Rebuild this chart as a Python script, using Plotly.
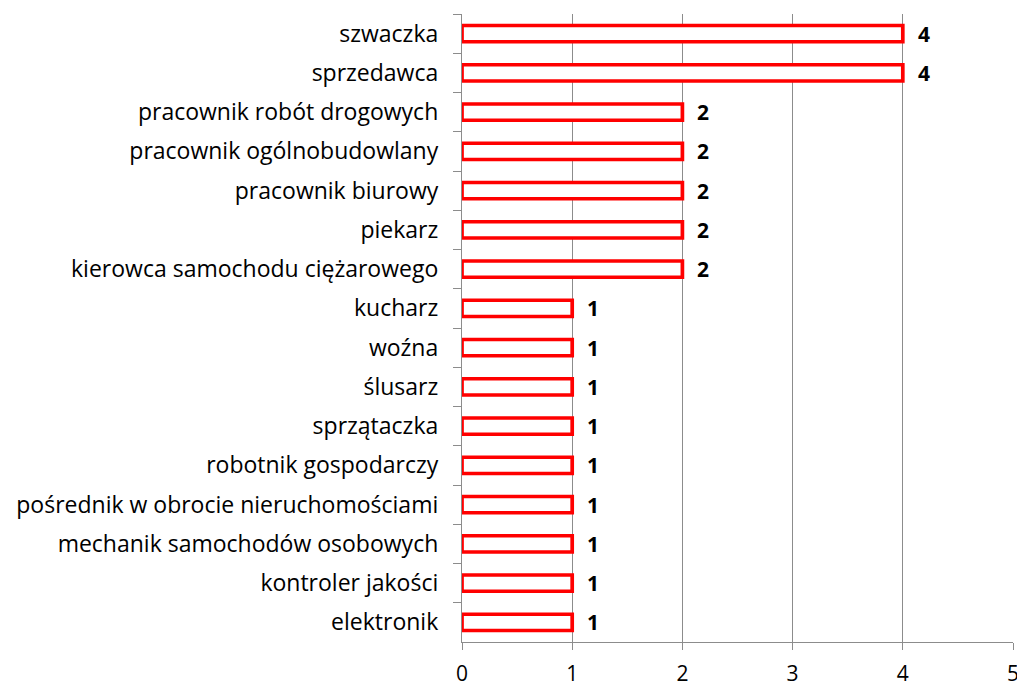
import plotly.graph_objects as go

categories = [
    "szwaczka",
    "sprzedawca",
    "pracownik robót drogowych",
    "pracownik ogólnobudowlany",
    "pracownik biurowy",
    "piekarz",
    "kierowca samochodu ciężarowego",
    "kucharz",
    "woźna",
    "ślusarz",
    "sprzątaczka",
    "robotnik gospodarczy",
    "pośrednik w obrocie nieruchomościami",
    "mechanik samochodów osobowych",
    "kontroler jakości",
    "elektronik",
]
values = [4, 4, 2, 2, 2, 2, 2, 1, 1, 1, 1, 1, 1, 1, 1, 1]
x_ticks = [0, 1, 2, 3, 4, 5]

FONT = "'Open Sans', Lato, sans-serif"
GRID = "#8c8c8c"

fig = go.Figure()
fig.add_trace(go.Bar(
    x=values,
    y=categories,
    orientation="h",
    marker=dict(color="white", line=dict(color="#ff0000", width=3.7)),
    showlegend=False,
    hoverinfo="skip",
))

for c, v in zip(categories, values):
    fig.add_annotation(
        x=v, y=c, text=f"<b>{v}</b>", showarrow=False,
        xanchor="left", yanchor="middle", xshift=13,
        font=dict(family=FONT, size=21, color="black"),
    )

fig.update_layout(
    width=1017, height=687,
    margin=dict(l=462, r=4, t=14, b=45),
    paper_bgcolor="white", plot_bgcolor="white",
    bargap=0.585,
    font=dict(family=FONT, size=20, color="black"),
)
fig.update_xaxes(
    range=[0, 5],
    tickvals=x_ticks,
    ticktext=[str(t) for t in x_ticks],
    showgrid=True, gridcolor=GRID, gridwidth=1.3,
    zeroline=False,
    showline=True, linecolor=GRID, linewidth=1.3,
    ticks="outside", ticklen=7, tickcolor=GRID, tickwidth=1.3,
    ticklabelstandoff=6,
    ticklabeloverflow="allow",
    automargin=False,
    tickfont=dict(family=FONT, size=21, color="black"),
    fixedrange=True,
)
fig.update_yaxes(
    categoryorder="array", categoryarray=categories,
    autorange="reversed",
    showgrid=False, zeroline=False,
    showline=True, linecolor=GRID, linewidth=1.3,
    ticks="outside", ticklen=8, tickcolor=GRID, tickwidth=1.3,
    tickson="boundaries",
    ticklabelstandoff=18,
    automargin=False,
    tickfont=dict(family=FONT, size=23, color="black"),
    fixedrange=True,
)

fig.write_html(
    "out.html",
    config={"displayModeBar": False},
    post_script="document.body.style.margin='0';document.body.style.overflow='hidden';",
)
